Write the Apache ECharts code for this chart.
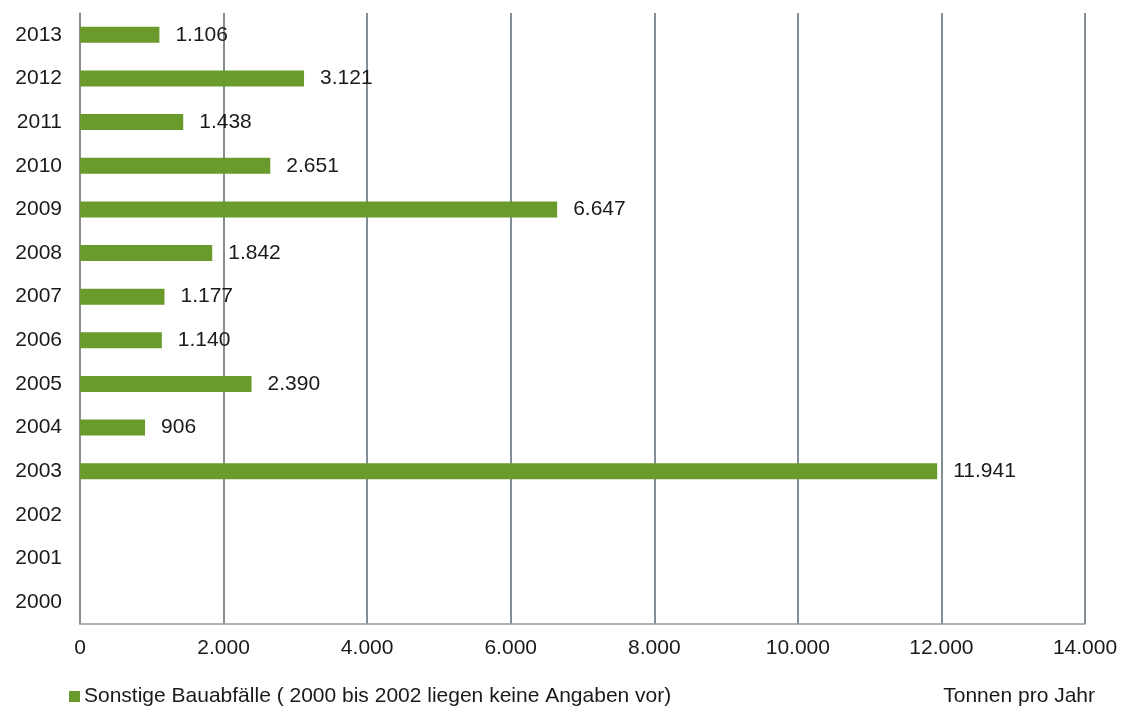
<!DOCTYPE html>
<html>
<head>
<meta charset="utf-8">
<script src="https://cdn.jsdelivr.net/npm/echarts@6/dist/echarts.min.js"></script>
<style>
  html, body { margin: 0; padding: 0; background: #fff; }
  #chart { width: 1126px; height: 712px; }
</style>
</head>
<body>
<div id="chart"></div>
<script>
// Sonstige Bauabfälle, Tonnen pro Jahr (2000–2002 ohne Angaben)
const years = ['2000', '2001', '2002', '2003', '2004', '2005', '2006', '2007', '2008', '2009', '2010', '2011', '2012', '2013'];
const tonnes = [null, null, null, 11941, 906, 2390, 1140, 1177, 1842, 6647, 2651, 1438, 3121, 1106];
const xTicks = [0, 2000, 4000, 6000, 8000, 10000, 12000, 14000];

const seriesName = 'Sonstige Bauabfälle ( 2000 bis 2002 liegen keine Angaben vor)';
const unitLabel = 'Tonnen pro Jahr';

const fmt = v => String(v).replace(/\B(?=(\d{3})+(?!\d))/g, '.');
const FONT = '"Liberation Sans", Arial, sans-serif';
const FS = 21;

const chart = echarts.init(document.getElementById('chart'));
chart.setOption({
  animation: false,
  textStyle: { fontFamily: FONT },
  grid: { left: 80, right: 41, top: 13, bottom: 88, containLabel: false },
  xAxis: {
    type: 'value',
    min: xTicks[0],
    max: xTicks[xTicks.length - 1],
    interval: 2000,
    axisLine: { show: true, lineStyle: { color: '#9a9a9a', width: 1.5 } },
    axisTick: { show: false },
    axisLabel: { formatter: fmt, color: '#1a1a1a', fontSize: FS, margin: 14, fontFamily: FONT },
    splitLine: { show: true, lineStyle: { color: '#5a6773', width: 1.5 } }
  },
  yAxis: {
    type: 'category',
    data: years,
    axisLine: { show: true, lineStyle: { color: '#8a8f94', width: 1.5 } },
    axisTick: { show: false },
    axisLabel: { color: '#1a1a1a', fontSize: FS, margin: 18, fontFamily: FONT }
  },
  legend: {
    show: true,
    left: 64,
    top: 681,
    itemWidth: 11,
    itemHeight: 11,
    itemGap: 4,
    icon: 'rect',
    textStyle: { color: '#1a1a1a', fontSize: FS, fontFamily: FONT, padding: [0, 0, 0, -1] },
    data: [seriesName]
  },
  graphic: [{
    type: 'text',
    right: 31,
    top: 686,
    style: { text: unitLabel, fill: '#1a1a1a', font: FS + 'px ' + FONT }
  }],
  series: [{
    name: seriesName,
    type: 'bar',
    data: tonnes,
    barWidth: 16,
    itemStyle: { color: '#6a9a2c' },
    label: {
      show: true,
      position: 'right',
      distance: 16,
      color: '#1a1a1a',
      fontSize: FS,
      fontFamily: FONT,
      formatter: p => p.value == null ? '' : fmt(p.value)
    }
  }]
});
</script>
</body>
</html>
